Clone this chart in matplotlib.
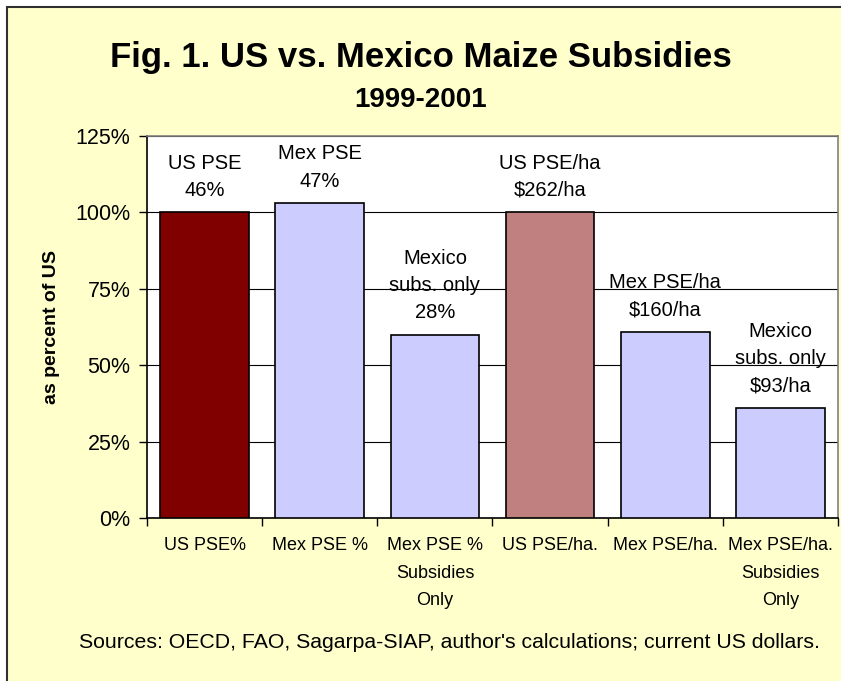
import matplotlib.pyplot as plt
from matplotlib.patches import Rectangle
import numpy as np

# data
categories = ["US PSE%", "Mex PSE %", "Mex PSE %\nSubsidies\nOnly",
              "US PSE/ha.", "Mex PSE/ha.", "Mex PSE/ha.\nSubsidies\nOnly"]
values = [100, 103, 60, 100, 61, 36]
bar_labels = ["US PSE\n46%", "Mex PSE\n47%", "Mexico\nsubs. only\n28%",
              "US PSE/ha\n$262/ha", "Mex PSE/ha\n$160/ha", "Mexico\nsubs. only\n$93/ha"]
bar_colors = ["#800000", "#CCCCFF", "#CCCCFF", "#C08080", "#CCCCFF", "#CCCCFF"]
yticks = [0, 25, 50, 75, 100, 125]

plt.rcParams['font.family'] = ['Liberation Sans', 'DejaVu Sans']

W, H = 841, 681
fig = plt.figure(figsize=(W / 100, H / 100), dpi=100, facecolor='white')

# yellow chart area with border (cut off at right and bottom)
fig.patches.append(Rectangle((7 / W, -0.05), 1.1, (H - 7) / H + 0.05,
                             transform=fig.transFigure, facecolor='#FFFFCC',
                             edgecolor='#303030', linewidth=1.5, zorder=-5))

ax = fig.add_axes([147 / W, 1 - 518 / H, (838 - 147) / W, (518 - 136) / H])
ax.set_facecolor('white')

x = np.arange(len(categories))
bars = ax.bar(x, values, width=0.77, color=bar_colors, edgecolor='black',
              linewidth=1.2, zorder=3)

for xi, v, lab in zip(x, values, bar_labels):
    ax.annotate(lab, (xi, v), xytext=(0, 9), textcoords='offset points',
                ha='center', va='bottom', fontsize=14.5, linespacing=1.55,
                zorder=4)

ax.set_xlim(-0.5, len(categories) - 0.5)
ax.set_ylim(0, 125)
ax.set_yticks(yticks)
ax.set_yticklabels([f"{t}%" for t in yticks], fontsize=15.5)
ax.yaxis.grid(True, color='black', linewidth=0.8, zorder=1)
ax.set_axisbelow(True)

ax.set_xticks(x)
ax.set_xticklabels(categories, fontsize=13, linespacing=1.8)
ax.set_xticks(np.arange(-0.5, len(categories)), minor=True)
ax.tick_params(axis='x', which='major', length=0, pad=14)
ax.tick_params(axis='x', which='minor', length=6, width=1, color='black')
ax.tick_params(axis='y', length=6, width=1, pad=6)

for s in ['top', 'right']:
    ax.spines[s].set_color('#808080')
    ax.spines[s].set_linewidth(1.2)
for s in ['left', 'bottom']:
    ax.spines[s].set_color('black')
    ax.spines[s].set_linewidth(1.2)

ax.set_ylabel("as percent of US", fontsize=14, fontweight='bold', labelpad=11)

fig.text(421 / W, 1 - 57 / H, "Fig. 1. US vs. Mexico Maize Subsidies",
         ha='center', va='center', fontsize=25, fontweight='bold')
fig.text(421 / W, 1 - 100 / H, "1999-2001",
         ha='center', va='center', fontsize=20, fontweight='bold')
fig.text(449 / W, 1 - 643 / H,
         "Sources: OECD, FAO, Sagarpa-SIAP, author's calculations; current US dollars.",
         ha='center', va='center', fontsize=15.3)

fig.savefig('out.png', dpi=100)
